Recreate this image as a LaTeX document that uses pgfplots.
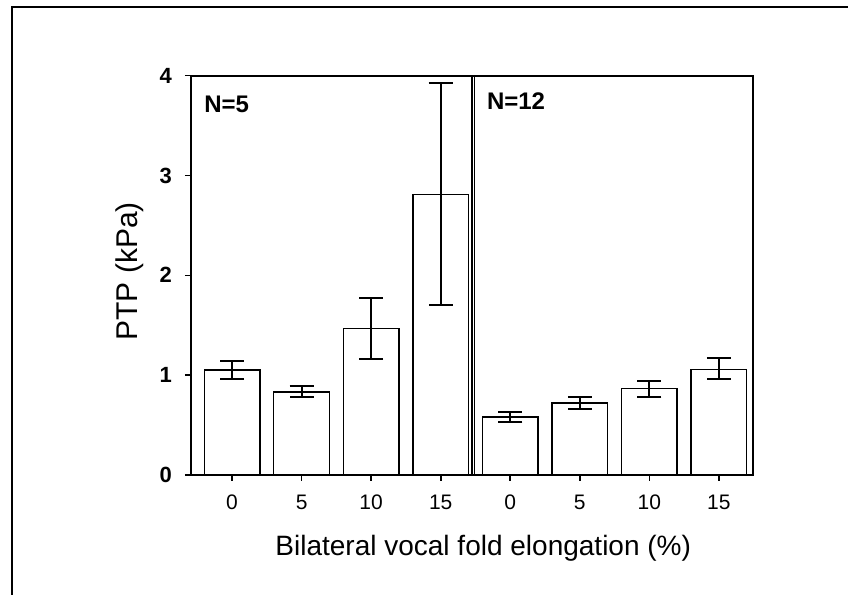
\documentclass[border=0pt]{standalone}
\usepackage{fontspec}
\setmainfont{Liberation Sans}
\usepackage{pgfplots}
\pgfplotsset{compat=1.18}
\begin{document}
\begin{tikzpicture}
\begin{axis}[
 name=ax, at={(0,0)}, anchor=south west,
 scale only axis, width=281pt, height=199.7pt,
 xmin=-0.59, xmax=7.49, ymin=0, ymax=4,
 xtick={0,...,7}, xticklabels={0,5,10,15,0,5,10,15},
 ytick={0,1,2,3,4},
 tick pos=left, tick align=outside, major tick length=3pt,
 axis line style={line width=0.9pt},
 every tick/.style={black, line width=0.8pt},
 /pgf/number format/assume math mode=true,
 yticklabel style={font=\bfseries\fontsize{11}{13}\selectfont, xshift=-3pt},
 xticklabel style={font=\fontsize{10.5}{12}\selectfont, yshift=-3.5pt},
 xlabel={Bilateral vocal fold elongation (\%)},
 ylabel={PTP (kPa)},
 xlabel style={font=\fontsize{14}{16}\selectfont, at={(axis description cs:0.52,0)}, anchor=center, yshift=-36.5pt},
 ylabel style={font=\fontsize{15}{17}\selectfont, at={(axis description cs:0,0.51)}, anchor=center, yshift=30.5pt},
 ybar, bar width=0.8,
 clip=false,
]
\addplot[fill=white, draw=black, line width=0.7pt,
 error bars/.cd, y dir=both, y explicit,
 error bar style={line width=1pt, black},
 error mark options={rotate=90, line width=1pt, black, mark size=6pt}]
 table[x=x, y=y, y error plus=ep, y error minus=em] {
 x y ep em
 0 1.05 0.093 0.09
 1 0.833 0.06 0.053
 2 1.467 0.306 0.307
 3 2.81 1.12 1.11
 4 0.58 0.053 0.047
 5 0.723 0.057 0.06
 6 0.867 0.076 0.084
 7 1.057 0.11 0.097
 };
\draw[line width=0.6pt] (axis cs:3.45,0) -- (axis cs:3.45,4);
\draw[line width=0.6pt] (axis cs:3.49,0) -- (axis cs:3.49,4);
\node[anchor=west, inner sep=0pt, font=\bfseries\fontsize{12}{14}\selectfont] at (axis cs:-0.403,3.715) {N=5};
\node[anchor=west, inner sep=0pt, font=\bfseries\fontsize{12}{14}\selectfont] at (axis cs:3.66,3.74) {N=12};
\end{axis}
\draw[line width=0.75pt] (-89.5pt,-62pt) -- (-89.5pt,234pt) -- (330pt,234pt);
\pgfresetboundingbox
\useasboundingbox (-95.5pt,-60pt) rectangle (328.5pt,237.5pt);
\end{tikzpicture}
\end{document}
